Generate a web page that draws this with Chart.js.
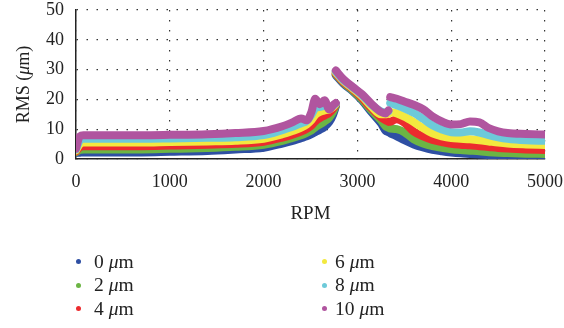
<!DOCTYPE html>
<html>
<head>
<meta charset="utf-8">
<script src="https://cdn.jsdelivr.net/npm/chart.js@4.4.1/dist/chart.umd.min.js"></script>
<style>
  html, body { margin: 0; padding: 0; background: #fff; }
  #wrap { position: relative; width: 564px; height: 328px; }
  #legend {
    position: absolute; left: 76px; top: 250px;
    display: grid; grid-template-rows: repeat(3, 23.5px); grid-auto-flow: column;
    grid-template-columns: 246px 160px;
    font-family: "Liberation Serif", "DejaVu Serif", serif; font-size: 19.5px; color: #222;
  }
  #legend div { display: flex; align-items: center; }
  #legend span.dot { width: 5px; height: 5px; border-radius: 50%; margin-right: 13px; }
  #legend div.c2 span.dot { margin-right: 8px; }
</style>
</head>
<body>
<div id="wrap">
  <canvas id="c" width="564" height="328"></canvas>
  <div id="legend"></div>
</div>
<script>
// rpm samples; null values in the series split the curve into its three runs
var rpm = [0, 40, 80, 300, 700, 1000, 1400, 1700, 2000, 2200, 2300, 2400, 2460, 2510, 2550, 2600, 2650, 2700, 2740, 2770,
           2770,
           2770, 2850, 2950, 3050, 3150, 3250, 3300, 3330,
           3340,
           3350, 3420, 3500, 3600, 3700, 3800, 3900, 4000, 4100, 4200, 4300, 4400, 4500, 4600, 4800, 5000];

var labels = ['0 μm', '2 μm', '4 μm', '6 μm', '8 μm', '10 μm'];
var colors = ['#2e4fa3', '#6cb544', '#ec2b2e', '#f3e93f', '#6dcad9', '#b0559f'];

var rms0 = [2.0, 2.1, 2.2, 2.2, 2.2, 2.4, 2.7, 3.2, 3.8, 5.2, 6.0, 7.0, 7.6, 8.3, 9.0, 9.8, 10.8, 12.4, 14.8, 17.6,
            null,
            28.1, 25.3, 22.7, 19.6, 15.7, 12.0, 9.5, 9.0,
            null,
            8.6, 7.6, 6.3, 4.9, 3.9, 3.1, 2.6, 2.2, 1.9, 1.7, 1.5, 1.3, 1.1, 1.0, 0.9, 0.8];
var rms2 = [2.3, 3.0, 3.2, 3.2, 3.2, 3.4, 3.7, 4.1, 4.8, 6.1, 7.0, 8.0, 8.8, 9.6, 10.6, 11.6, 12.6, 13.9, 15.8, 18.0,
            null,
            28.4, 25.6, 23.0, 20.0, 16.3, 13.0, 11.0, 10.5,
            null,
            10.2, 10.0, 9.0, 6.6, 5.2, 4.3, 3.8, 3.3, 3.0, 2.8, 2.6, 2.3, 2.1, 2.0, 1.8, 1.7];
var rms4 = [2.6, 4.0, 4.3, 4.3, 4.3, 4.5, 4.8, 5.1, 5.8, 7.2, 8.1, 9.2, 10.1, 11.2, 12.6, 13.7, 14.6, 15.5, 16.8, 18.3,
            null,
            28.7, 25.9, 23.4, 20.5, 17.0, 14.0, 13.0, 12.5,
            null,
            12.5, 13.3, 12.2, 9.2, 7.6, 6.4, 5.7, 5.1, 4.8, 4.6, 4.3, 4.0, 3.7, 3.5, 3.2, 3.0];
var rms6 = [2.9, 5.0, 5.5, 5.5, 5.5, 5.7, 5.9, 6.1, 6.8, 8.3, 9.3, 10.5, 11.6, 13.0, 14.8, 15.8, 16.3, 16.6, 17.4, 18.5,
            null,
            29.0, 26.2, 23.7, 21.0, 17.6, 15.0, 15.0, 15.2,
            null,
            15.8, 15.3, 14.2, 12.4, 10.4, 8.6, 7.6, 7.0, 6.8, 6.6, 6.3, 5.9, 5.5, 5.2, 4.9, 4.7];
var rms8 = [3.2, 6.2, 6.8, 6.8, 6.8, 6.9, 7.1, 7.3, 8.0, 9.7, 10.7, 12.0, 12.8, 14.8, 17.0, 17.5, 17.8, 17.4, 17.8, 18.6,
            null,
            29.3, 26.5, 24.0, 21.4, 18.2, 16.0, 15.6, 16.0,
            null,
            18.8, 18.0, 17.0, 15.5, 13.5, 11.3, 9.9, 9.0, 8.9, 9.3, 8.9, 8.0, 7.3, 6.8, 6.3, 6.1];
var rms10 = [3.5, 7.6, 8.0, 8.0, 8.0, 8.1, 8.3, 8.7, 9.4, 11.0, 12.2, 13.6, 13.0, 15.8, 20.2, 18.4, 19.7, 16.6, 18.0, 18.8,
             null,
             29.7, 26.8, 24.2, 21.7, 18.5, 15.8, 15.3, 16.3,
             null,
             20.8, 20.2, 19.3, 18.2, 16.7, 14.3, 12.6, 11.6, 11.7, 12.6, 12.3, 10.4, 9.3, 8.7, 8.4, 8.2];

var series = [rms0, rms2, rms4, rms6, rms8, rms10];
var xTicks = [0, 1000, 2000, 3000, 4000, 5000];
var yTicks = [0, 10, 20, 30, 40, 50];

var serif = '"Liberation Serif", "DejaVu Serif", serif';

function toPoints(values) {
    var pts = [];
    for (var i = 0; i < rpm.length; i++) {
        pts.push({ x: rpm[i], y: values[i] });
    }
    return pts;
}

var datasets = series.map(function (values, i) {
    return {
        label: labels[i],
        data: toPoints(values),
        borderColor: colors[i],
        backgroundColor: colors[i],
        borderWidth: 8,
        borderCapStyle: 'round',
        borderJoinStyle: 'round',
        pointRadius: 0,
        cubicInterpolationMode: 'monotone',
        spanGaps: false,
        // thickest gap drawn last so it sits on top
        order: series.length - 1 - i
    };
});

// y title with an italic mu
var yTitle = {
    id: 'yTitle',
    afterDraw: function (chart) {
        var ctx = chart.ctx;
        var area = chart.chartArea;
        var parts = [['RMS (', 'normal'], ['μ', 'italic'], ['m)', 'normal']];
        ctx.save();
        ctx.translate(24, (area.top + area.bottom) / 2);
        ctx.rotate(-Math.PI / 2);
        ctx.fillStyle = '#222';
        ctx.textBaseline = 'middle';
        var total = 0;
        parts.forEach(function (p) {
            ctx.font = p[1] + ' 18px ' + serif;
            total += ctx.measureText(p[0]).width;
        });
        var x = -total / 2;
        parts.forEach(function (p) {
            ctx.font = p[1] + ' 18px ' + serif;
            ctx.fillText(p[0], x, 0);
            x += ctx.measureText(p[0]).width;
        });
        ctx.restore();
    }
};

var htmlLegend = {
    id: 'htmlLegend',
    afterUpdate: function (chart) {
        var box = document.getElementById('legend');
        box.innerHTML = '';
        chart.data.datasets.forEach(function (ds, i) {
            var num = ds.label.split(' ')[0];
            var item = document.createElement('div');
            if (i >= 3) item.className = 'c2';
            item.innerHTML = '<span class="dot" style="background:' + ds.borderColor + '"></span>' +
                num + '&nbsp;<i>μ</i>m';
            box.appendChild(item);
        });
    }
};

new Chart(document.getElementById('c'), {
    type: 'line',
    data: { datasets: datasets },
    plugins: [yTitle, htmlLegend],
    options: {
        responsive: false,
        animation: false,
        layout: { padding: { top: 0, right: 0, left: 0, bottom: 103 } },
        plugins: { legend: { display: false }, tooltip: { enabled: false } },
        scales: {
            x: {
                type: 'linear',
                min: 0, max: 5000,
                afterBuildTicks: function (scale) {
                    scale.ticks = xTicks.map(function (v) { return { value: v }; });
                },
                afterFit: function (scale) {
                    scale.height = 66;
                    scale.paddingLeft = 0;
                    scale.paddingRight = 19;
                },
                ticks: {
                    color: '#222', font: { family: serif, size: 18, lineHeight: 1 }, padding: 14, maxRotation: 0,
                    callback: function (v) { return String(v); }
                },
                grid: { color: '#333', lineWidth: 1.2, drawTicks: false },
                border: { display: true, color: '#222', width: 1.5, dash: [1.5, 8.5] },
                title: { display: true, text: 'RPM', color: '#222', font: { family: serif, size: 19 }, padding: { top: 4, bottom: 0 } }
            },
            y: {
                min: 0, max: 50,
                afterBuildTicks: function (scale) {
                    scale.ticks = yTicks.map(function (v) { return { value: v }; });
                },
                afterFit: function (scale) {
                    scale.width = 76;
                    scale.paddingTop = 10;
                    scale.paddingBottom = 0;
                },
                ticks: { color: '#222', font: { family: serif, size: 18, lineHeight: 1 }, padding: 12 },
                grid: { color: '#333', lineWidth: 1.2, drawTicks: false },
                border: { display: true, color: '#222', width: 1.5, dash: [1.5, 8.5] }
            }
        }
    }
});
</script>
</body>
</html>
